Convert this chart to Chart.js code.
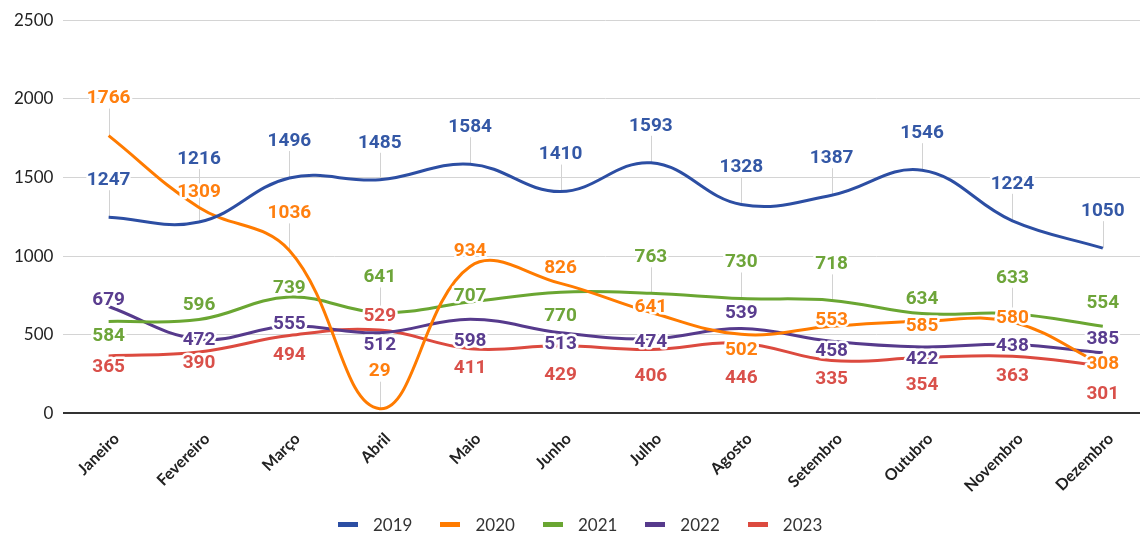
<!DOCTYPE html>
<html>
<head>
<meta charset="utf-8">
<script src="https://cdn.jsdelivr.net/npm/chart.js@4.4.1/dist/chart.umd.min.js"></script>
<style>
  html, body { margin: 0; padding: 0; background: #fff; overflow: hidden; }
  #wrap { width: 1150px; height: 536px; position: relative; }
  #legend { position: absolute; left: 338px; top: 514px; display: flex; align-items: center;
            font-family: Lato, sans-serif; font-size: 17px; color: #333; }
  #legend .item { display: flex; align-items: center; margin-right: 28px; }
  #legend .box { width: 20px; height: 5px; margin-right: 15px; }
</style>
</head>
<body>
<div id="wrap"><canvas id="c"></canvas><div id="legend"></div></div>
<script>
// ---- data ----
const months = ['Janeiro', 'Fevereiro', 'Março', 'Abril', 'Maio', 'Junho', 'Julho', 'Agosto', 'Setembro', 'Outubro', 'Novembro', 'Dezembro'];
const years = ['2019', '2020', '2021', '2022', '2023'];
const v2019 = [1247, 1216, 1496, 1485, 1584, 1410, 1593, 1328, 1387, 1546, 1224, 1050];
const v2020 = [1766, 1309, 1036, 29, 934, 826, 641, 502, 553, 585, 580, 308];
const v2021 = [584, 596, 739, 641, 707, 770, 763, 730, 718, 634, 633, 554];
const v2022 = [679, 472, 555, 512, 598, 513, 474, 539, 458, 422, 438, 385];
const v2023 = [365, 390, 494, 529, 411, 429, 406, 446, 335, 354, 363, 301];
const yTicks = [0, 500, 1000, 1500, 2000, 2500];

// ---- styling ----
const lineColors = ['#2c4ea3', '#ff7b00', '#6aa632', '#563a8c', '#dc4a3f'];
const labelColors = ['#3458a6', '#ff7f0f', '#6ea53a', '#5a3d8f', '#d9504a'];
// vertical label offsets (px, relative to the point) per series
const dy2019 = [-37, -63, -37, -37, -37, -37, -37, -37, -37, -37, -37, -37];
const dy2020 = [-37, -15, -37, -37, -15, -15, -5, 16, -6, 5, -4, -1];
const dy2021 = [15, -14, -9, -35, -6, 24, -36, -36, -36, -14, -36, -23];
const dy2022 = [-6, 1, -2, 12, 22, 12, 3, -15, 10, 12, 2, -13];
const dy2023 = [11, 11, 20, -14, 20, 29, 27, 35, 19, 28, 20, 28];

const seriesValues = [v2019, v2020, v2021, v2022, v2023];
const labelDy = [dy2019, dy2020, dy2021, dy2022, dy2023];

// legend (HTML)
const legendEl = document.getElementById('legend');
years.forEach((y, i) => {
  const it = document.createElement('div');
  it.className = 'item';
  const b = document.createElement('div');
  b.className = 'box';
  b.style.background = lineColors[i];
  const t = document.createElement('span');
  t.textContent = y;
  it.appendChild(b); it.appendChild(t);
  legendEl.appendChild(it);
});

const leaderPlugin = {
  id: 'leaders',
  beforeDatasetsDraw(chart) {
    const ctx = chart.ctx;
    ctx.save();
    ctx.strokeStyle = '#d2d2d2';
    ctx.lineWidth = 1;
    chart.data.datasets.forEach((ds, i) => {
      const meta = chart.getDatasetMeta(i);
      meta.data.forEach((pt, j) => {
        const dy = labelDy[i][j];
        if (dy <= -28) {
          const x = Math.round(pt.x) + 0.5;
          ctx.beginPath();
          ctx.moveTo(x, pt.y + dy + 10);
          ctx.lineTo(x, pt.y);
          ctx.stroke();
        }
      });
    });
    ctx.restore();
  }
};

const labelPlugin = {
  id: 'valueLabels',
  afterDatasetsDraw(chart) {
    const ctx = chart.ctx;
    ctx.save();
    ctx.font = 'bold 19px Roboto';
    ctx.textAlign = 'center';
    ctx.textBaseline = 'middle';
    ctx.lineJoin = 'round';
    chart.data.datasets.forEach((ds, i) => {
      const meta = chart.getDatasetMeta(i);
      meta.data.forEach((pt, j) => {
        const txt = String(ds.data[j]);
        const ly = pt.y + labelDy[i][j];
        ctx.strokeStyle = '#ffffff';
        ctx.lineWidth = 5;
        ctx.strokeText(txt, pt.x, ly);
        ctx.fillStyle = labelColors[i];
        ctx.fillText(txt, pt.x, ly);
      });
    });
    ctx.restore();
  }
};

new Chart(document.getElementById('c'), {
  type: 'line',
  data: {
    labels: months,
    datasets: years.map((y, i) => ({
      label: y,
      data: seriesValues[i],
      borderColor: lineColors[i],
      backgroundColor: lineColors[i],
      borderWidth: 3,
      pointRadius: 0,
      tension: 0.4,
      fill: false
    }))
  },
  options: {
    responsive: true,
    maintainAspectRatio: false,
    animation: false,
    layout: { padding: { left: 4, right: 2, top: 16, bottom: 32 } },
    plugins: {
      legend: { display: false },
      tooltip: { enabled: false }
    },
    scales: {
      x: {
        offset: true,
        grid: { display: false },
        border: { display: false },
        ticks: {
          font: { family: 'Lato', size: 16, weight: 'bold' },
          color: '#222',
          minRotation: 45,
          maxRotation: 45,
          autoSkip: false,
          padding: 8,
          labelOffset: 8
        }
      },
      y: {
        min: yTicks[0],
        max: yTicks[yTicks.length - 1],
        border: { display: false },
        grid: {
          drawTicks: false,
          color: ctx => ctx.tick && ctx.tick.value === 0 ? '#333' : '#d4d4d4',
          lineWidth: ctx => ctx.tick && ctx.tick.value === 0 ? 2 : 1
        },
        ticks: {
          stepSize: yTicks[1] - yTicks[0],
          callback: v => String(v),
          font: { family: 'Lato', size: 17 },
          color: '#222',
          padding: 10
        }
      }
    }
  },
  plugins: [leaderPlugin, labelPlugin]
});
</script>
</body>
</html>
